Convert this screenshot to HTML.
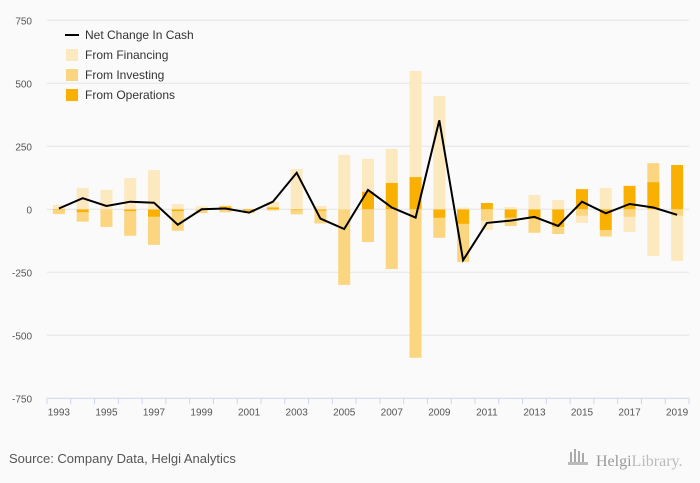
<!DOCTYPE html>
<html><head><meta charset="utf-8">
<style>
body{margin:0;background:#fafafa;}
svg{display:block;font-family:"Liberation Sans",sans-serif;}
</style></head>
<body>
<svg id="chart" width="700" height="483" viewBox="0 0 700 483">
<rect width="700" height="483" fill="#fafafa"/>
<g id="grid"></g><g id="bars"></g><g id="line"></g><g id="axes"></g>
<g font-size="12" fill="#333">
<g><line x1="65" y1="35" x2="79" y2="35" stroke="#000" stroke-width="2"/><text x="85" y="39">Net Change In Cash</text></g>
<g><rect x="66" y="49" width="12" height="12" fill="#fde9bf"/><text x="85" y="59">From Financing</text></g>
<g><rect x="66" y="69" width="12" height="12" fill="#fbd580"/><text x="85" y="79">From Investing</text></g>
<g><rect x="66" y="89" width="12" height="12" fill="#f9b000"/><text x="85" y="99">From Operations</text></g>
</g>
<text x="9" y="463" font-size="13" fill="#555">Source: Company Data, Helgi Analytics</text>
<g>
<rect x="570" y="452" width="2" height="10" fill="#aaa"/><rect x="574" y="449" width="2" height="13" fill="#aaa"/><rect x="578" y="451" width="2" height="11" fill="#aaa"/><rect x="582" y="453" width="2" height="9" fill="#aaa"/><rect x="568" y="462" width="20" height="3" fill="#bbb"/>
<text x="596" y="466" font-size="16" fill="#999" font-family="Liberation Serif,serif">Helgi<tspan fill="#bbb">Library.</tspan></text>
</g>
</svg>
<script>
const years=[1993,1994,1995,1996,1997,1998,1999,2000,2001,2002,2003,2004,2005,2006,2007,2008,2009,2010,2011,2012,2013,2014,2015,2016,2017,2018,2019];
const financing=[17,85,77,124,156,21,12,3,0,22,160,13,216,130,135,421,450,7,-36,9,57,37,-28,85,-60,-185,-179];
const investing=[-15,-37,-70,-97,-111,-77,-15,-12,-10,-5,-16,-50,-300,-130,-237,-589,-79,-151,-46,-32,-55,-28,-26,-26,-30,75,-26];
const operations=[-4,-12,0,-8,-30,-8,0,12,-5,8,-4,-6,0,70,105,128,-34,-58,25,-34,-38,-70,80,-82,93,108,176];
const netChange=[3,44,13,30,26,-61,0,3,-13,30,145,-37,-78,77,7,-33,353,-202,-54,-45,-30,-66,30,-16,21,7,-22];
const yTicks=[750,500,250,0,-250,-500,-750];
const NS="http://www.w3.org/2000/svg";
const X0=47,X1=689,Y0=20.3,Y1=398.3,VMAX=750,VMIN=-750;
const band=(X1-X0)/years.length;
function xPos(i){return X0+band*(i+0.5);}
function yPos(v){return Y0+(VMAX-v)*(Y1-Y0)/(VMAX-VMIN);}
function mk(tag,attrs,parent){const e=document.createElementNS(NS,tag);for(const k in attrs)e.setAttribute(k,attrs[k]);parent.appendChild(e);return e;}
const grid=document.getElementById('grid'),bars=document.getElementById('bars'),line=document.getElementById('line'),axes=document.getElementById('axes');
yTicks.forEach(t=>{
 if(t!==VMIN){const g=mk('line',{x1:X0,x2:X1,y1:yPos(t),y2:yPos(t),stroke:'#e4e4e4','stroke-width':1},grid);
 
 }
 const lb=mk('text',{x:32,y:yPos(t)+4,'text-anchor':'end','font-size':10,fill:'#555'},axes);
 lb.textContent=t;
 
 
});
const series=[[operations,'#f9b000','operations'],[investing,'#fbd580','investing'],[financing,'#fde9bf','financing']];
years.forEach((yr,i)=>{
 let pos=0,neg=0;
 series.forEach(([arr,col,nm])=>{
  const v=arr[i];let a,b;
  if(v>=0){a=pos;b=pos+v;pos=b;}else{a=neg;b=neg+v;neg=b;}
  const y1=yPos(Math.max(a,b)),y2=yPos(Math.min(a,b));
  const r=mk('rect',{x:xPos(i)-6,y:y1,width:12,height:Math.max(0,y2-y1),fill:col},bars);
  
  
 });
});
const pts=netChange.map((v,i)=>xPos(i).toFixed(1)+','+yPos(v).toFixed(1)).join(' ');
const pl=mk('polyline',{points:pts,fill:'none',stroke:'#000','stroke-width':2,'stroke-linejoin':'miter'},line);


const ax=mk('line',{x1:X0,x2:X1,y1:Y1,y2:Y1,stroke:'#ccd6eb','stroke-width':1},axes);


for(let i=0;i<=years.length;i++){
 const tk=mk('line',{x1:X0+band*i,x2:X0+band*i,y1:Y1,y2:Y1+6,stroke:'#ccd6eb'},axes);
 
 
}
years.forEach((yr,i)=>{
 if(i%2===0){const t=mk('text',{x:xPos(i),y:Y1+17,'text-anchor':'middle','font-size':10,fill:'#555'},axes);
 t.textContent=yr;
 
 }
});
</script>
</body></html>
